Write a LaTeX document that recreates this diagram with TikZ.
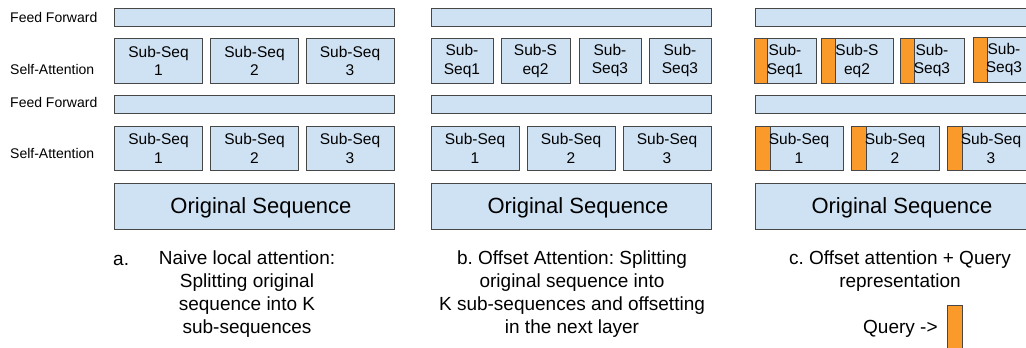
\documentclass[tikz,border=0pt]{standalone}
\usepackage{fontspec}
\setmainfont{Liberation Sans}
\frenchspacing
\definecolor{boxfill}{HTML}{CFE2F3}
\definecolor{boxline}{HTML}{474747}
\definecolor{qorange}{HTML}{F99A2A}
\begin{document}
\begin{tikzpicture}[x=1pt,y=-1pt,
  blk/.style={draw=boxline, fill=boxfill, line width=0.9pt, inner sep=0pt, outer sep=0pt,
    align=center, font=\fontsize{15.5}{18.5}\selectfont},
  bar/.style={blk, minimum width=280, minimum height=18},
  seqA/.style={blk, minimum width=88, minimum height=44.5},
  seqB/.style={blk, minimum width=#1, minimum height=45},
  orig/.style={blk, minimum width=280, minimum height=46, text depth=0pt, font=\fontsize{22}{26}\selectfont},
  qbox/.style={path picture={
      \fill[qorange] (path picture bounding box.north west) rectangle ([xshift=#1]path picture bounding box.south west);
      \draw[boxline, line width=0.9pt] ([xshift=#1]path picture bounding box.north west) -- ([xshift=#1]path picture bounding box.south west);}},
  lbl/.style={anchor=west, inner sep=0pt, font=\fontsize{14}{16}\selectfont},
  captxt/.style={anchor=north, inner sep=0pt, align=center, font=\fontsize{19}{22.7}\selectfont},
]
\useasboundingbox (0,0) rectangle (1026,348);
\clip (0,0) rectangle (1026,348);

% side labels
\node[lbl] (l1) at (10,17) {Feed Forward};
\node[lbl] (l2) at (10,69) {Self-Attention};
\node[lbl] (l3) at (10,102) {Feed Forward};
\node[lbl] (l4) at (10,153) {Self-Attention};

% ---------- column a ----------
\node[bar] (af1) at (254,17) {};
\node[seqA] (a11) at (158.5,61) {Sub-Seq\\1};
\node[seqA] (a12) at (254.5,61) {Sub-Seq\\2};
\node[seqA] (a13) at (350,61) {Sub-Seq\\3};
\node[bar] (af2) at (254,104) {};
\node[seqA] (a21) at (158.5,148.5) {Sub-Seq\\1};
\node[seqA] (a22) at (254.5,148.5) {Sub-Seq\\2};
\node[seqA] (a23) at (350,148.5) {Sub-Seq\\3};
\node[orig] (ao) at (254,206) {\hspace*{14pt}Original Sequence};

% ---------- column b ----------
\node[bar] (bf1) at (571,17) {};
\node[seqB=62] (b11) at (462,61) {Sub-\\Seq1};
\node[seqB=69] (b12) at (535.5,61) {Sub-S\\eq2};
\node[seqB=62] (b13) at (610,60.5) {Sub-\\Seq3};
\node[seqB=62] (b14) at (680,60.5) {Sub-\\Seq3};
\node[bar] (bf2) at (571,104) {};
\node[seqA] (b21) at (475,148.5) {Sub-Seq\\1};
\node[seqA] (b22) at (571,148.5) {Sub-Seq\\2};
\node[seqA] (b23) at (667,148.5) {Sub-Seq\\3};
\node[orig] (bo) at (571,206) {\hspace*{14pt}Original Sequence};

% ---------- column c ----------
\node[bar] (cf1) at (895,17) {};
\node[seqB=62, qbox=13.5pt] (c11) at (785,61) {Sub-\\Seq1};
\node[seqB=72, qbox=14pt] (c12) at (857,61) {Sub-S\\eq2};
\node[seqB=64, qbox=14pt] (c13) at (932,60.5) {Sub-\\Seq3};
\node[seqB=62, qbox=14pt] (c14) at (1004,59.5) {Sub-\\Seq3};
\node[bar] (cf2) at (895,104) {};
\node[seqA, qbox=15pt] (c21) at (799,148.5) {Sub-Seq\\1};
\node[seqA, qbox=15pt] (c22) at (895,148.5) {Sub-Seq\\2};
\node[seqA, qbox=15pt] (c23) at (991,148.5) {Sub-Seq\\3};
\node[orig] (co) at (895,206) {\hspace*{14pt}Original Sequence};

% ---------- captions ----------
\node[anchor=base west, inner sep=0pt, font=\fontsize{19}{22.7}\selectfont] (capa0) at (113,265) {a.};
\node[captxt] (capa) at (247,251) {Naive local attention:\\Splitting original\\sequence into K\\sub-sequences};
\node[captxt] (capb) at (572,251) {b. Offset Attention: Splitting\\original sequence into\\K sub-sequences and offsetting\\in the next layer};
\node[captxt] (capc) at (900,251) {c. Offset attention + Query\\representation};
\node[anchor=base west, inner sep=0pt, font=\fontsize{19}{22.7}\selectfont] (qtxt) at (863,333) {Query ->};
\node[draw=boxline, fill=qorange, line width=0.9pt, inner sep=0pt, minimum width=15, minimum height=50, anchor=north west] (qrect) at (947,305) {};
\end{tikzpicture}
\end{document}
